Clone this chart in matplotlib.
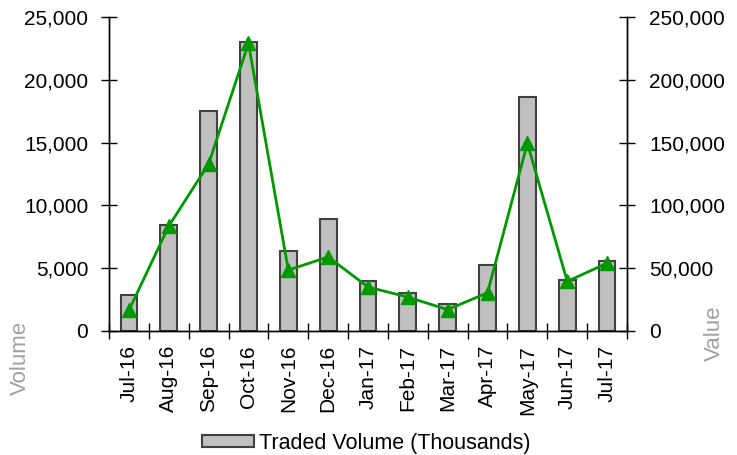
import matplotlib
matplotlib.use("Agg")
import matplotlib.pyplot as plt
import numpy as np
from matplotlib.ticker import FuncFormatter, FixedLocator

plt.rcParams['font.family'] = ['Liberation Sans', 'DejaVu Sans']

months = ["Jul-16", "Aug-16", "Sep-16", "Oct-16", "Nov-16", "Dec-16", "Jan-17",
          "Feb-17", "Mar-17", "Apr-17", "May-17", "Jun-17", "Jul-17"]
volume = [2850, 8450, 17550, 23000, 6400, 8900, 3950, 3050, 2150, 5250, 18600, 4050, 5600]
value = [16500, 83500, 133000, 229000, 48500, 59000, 35000, 27000, 17000, 30500, 149500, 39500, 54000]

fig = plt.figure(figsize=(7.37, 4.55), dpi=100)
ax = fig.add_axes([109/737, 1-331/455, (627-109)/737, (331-17)/455])
ax2 = ax.twinx()

x = np.arange(len(months))
bars = ax.bar(x, volume, width=0.42, color="#c0c0c0", edgecolor="#404040",
              linewidth=1.5, label="Traded Volume (Thousands)", zorder=2)
ax2.plot(x, value, color="#009900", linewidth=2, marker="^", markersize=10,
         zorder=3)

ax.set_xlim(-0.5, len(months) - 0.5)
ax.set_ylim(0, 25000)
ax2.set_ylim(0, 250000)
ax.set_yticks(np.arange(0, 25001, 5000))
ax2.set_yticks(np.arange(0, 250001, 50000))
fmt = FuncFormatter(lambda v, p: f"{int(v):,}")
ax.yaxis.set_major_formatter(fmt)
ax2.yaxis.set_major_formatter(fmt)

ax.set_xticks(x)
ax.set_xticklabels(months, rotation=90)
ax.xaxis.set_minor_locator(FixedLocator(np.arange(-0.5, len(months), 1.0)))
ax.tick_params(axis='x', which='major', length=0, pad=10, labelsize=15)
ax.tick_params(axis='x', which='minor', direction='inout', length=12, width=1)
ax.tick_params(axis='y', direction='inout', length=12, width=1, labelsize=15, pad=9)
ax2.tick_params(axis='y', direction='inout', length=12, width=1, labelsize=15, pad=10)

for a in (ax, ax2):
    a.spines['top'].set_visible(False)
    for s in ('left', 'right', 'bottom'):
        a.spines[s].set_color("#000000")
        a.spines[s].set_linewidth(1)

fig.text(20/737, 1-358/455, "Volume", rotation=90, color="#a0a0a0",
         fontsize=16, ha='center', va='center')
fig.text(714/737, 1-333/455, "Value", rotation=90, color="#a0a0a0",
         fontsize=16, ha='center', va='center')

fig.legend(handles=[bars], labels=["Traded Volume (Thousands)"], loc='center',
           bbox_to_anchor=(366/737, 1-443/455), frameon=False, fontsize=15.5,
           handlelength=2.45, handleheight=0.5, handletextpad=0.2)

fig.savefig("out.png", dpi=100)
